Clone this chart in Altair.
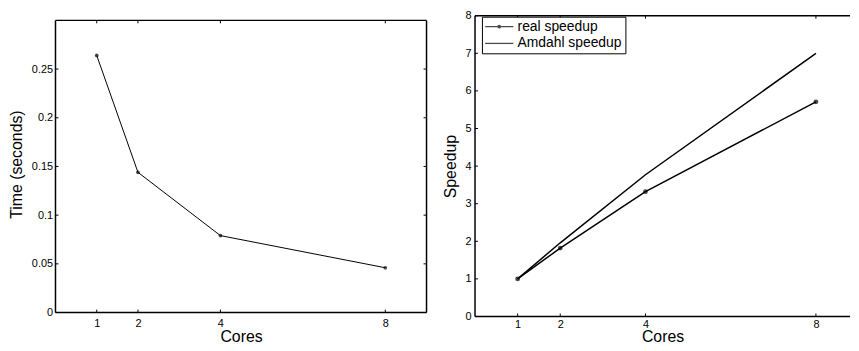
import altair as alt
import pandas as pd

# ---------------- data ----------------
cores = [1, 2, 4, 8]
time_s = [0.264, 0.144, 0.079, 0.046]
real_speedup = [1.0, 1.82, 3.32, 5.71]
amdahl_speedup = [1.0, 1.96, 3.77, 7.0]
series_names = ["real speedup", "Amdahl speedup"]
x_ticks = [1, 2, 4, 8]
time_ticks = [0, 0.05, 0.1, 0.15, 0.2, 0.25]
speed_ticks = [0, 1, 2, 3, 4, 5, 6, 7, 8]
time_limits = [0, 0.3]
core_limits = [0, 9]

FONT = "Liberation Sans"
LW, LH = 375, 300
RW, RH = 379, 304
FRAME_W = 1.5

df_time = pd.DataFrame({"cores": cores, "time": time_s})
df_speed = pd.DataFrame({
    "cores": cores * 2,
    "speedup": real_speedup + amdahl_speedup,
    "series": [series_names[0]] * len(cores) + [series_names[1]] * len(cores),
})
df_xt = pd.DataFrame({"cores": x_ticks})
df_tt = pd.DataFrame({"time": time_ticks})
df_st = pd.DataFrame({"speedup": speed_ticks})
df_one = pd.DataFrame({"k": [0]})

# ---------------- left panel ----------------
# plot area slightly taller than the axes box (box drawn at the data limits 0..0.3)
xL = alt.Scale(domain=[0, 9], nice=False, zero=False)
yL = alt.Scale(domain=[0, 0.3048], nice=False, zero=False)
axL_x = alt.Axis(values=x_ticks, title="Cores", labelPadding=4.8, titlePadding=0.2)
axL_y = alt.Axis(values=time_ticks, title="Time (seconds)", format="~g",
                 labelPadding=3, titlePadding=7)
XL = alt.X("cores:Q", scale=xL, axis=axL_x)
YL = alt.Y("time:Q", scale=yL, axis=axL_y)
tx = 0.072   # inward tick length (x units)
ty = 0.003   # inward tick length (y units)

left_line = alt.Chart(df_time).mark_line(color="black", strokeWidth=1).encode(x=XL, y=YL)
left_pts = alt.Chart(df_time).mark_point(color="black", filled=True, size=14, shape="circle").encode(x=XL, y=YL)
lt_bot = alt.Chart(df_xt).mark_rule(color="black", strokeWidth=1).encode(
    x=XL, y=alt.datum(time_limits[0], scale=yL), y2=alt.datum(time_limits[0] + ty))
lt_top = alt.Chart(df_xt).mark_rule(color="black", strokeWidth=1).encode(
    x=XL, y=alt.datum(time_limits[1], scale=yL), y2=alt.datum(time_limits[1] - ty))
lt_left = alt.Chart(df_tt).mark_rule(color="black", strokeWidth=1).encode(
    y=YL, x=alt.datum(core_limits[0], scale=xL), x2=alt.datum(core_limits[0] + tx))
lt_right = alt.Chart(df_tt).mark_rule(color="black", strokeWidth=1).encode(
    y=YL, x=alt.datum(core_limits[1], scale=xL), x2=alt.datum(core_limits[1] - tx))
lf_top = alt.Chart(df_one).mark_rule(color="black", strokeWidth=FRAME_W).encode(
    x=alt.datum(core_limits[0], scale=xL), x2=alt.datum(core_limits[1]),
    y=alt.datum(time_limits[1], scale=yL))
lf_bot = alt.Chart(df_one).mark_rule(color="black", strokeWidth=FRAME_W).encode(
    x=alt.datum(core_limits[0], scale=xL), x2=alt.datum(core_limits[1]),
    y=alt.datum(time_limits[0], scale=yL))
lf_left = alt.Chart(df_one).mark_rule(color="black", strokeWidth=FRAME_W).encode(
    x=alt.datum(core_limits[0], scale=xL),
    y=alt.datum(time_limits[0], scale=yL), y2=alt.datum(time_limits[1]))
lf_right = alt.Chart(df_one).mark_rule(color="black", strokeWidth=FRAME_W).encode(
    x=alt.datum(core_limits[1], scale=xL),
    y=alt.datum(time_limits[0], scale=yL), y2=alt.datum(time_limits[1]))

left = alt.layer(left_line, left_pts, lt_bot, lt_top, lt_left, lt_right,
                 lf_top, lf_bot, lf_left, lf_right).properties(
    width=LW, height=LH,
    view=alt.ViewBackground(stroke="transparent", strokeWidth=0),
)

# ---------------- right panel ----------------
xR = alt.Scale(domain=[0, 8.8], nice=False, zero=False)
yR = alt.Scale(domain=[0, 8], nice=False, zero=False)
axR_x = alt.Axis(values=x_ticks, title="Cores", labelPadding=2, titlePadding=-0.5)
axR_y = alt.Axis(values=speed_ticks, title="Speedup", labelPadding=4, titlePadding=7)
XR = alt.X("cores:Q", scale=xR, axis=axR_x)
YR = alt.Y("speedup:Q", scale=yR, axis=axR_y)
TICK = 3

legend_paths = [
    "M-1.35,0H4.35M1.25,0A0.25,0.25,0,1,1,1.75,0A0.25,0.25,0,1,1,1.25,0Z",
    "M-1.35,0H4.35",
]

right_lines = alt.Chart(df_speed).mark_line(color="black", strokeWidth=1.5).encode(
    x=XR, y=YR, detail="series:N")
right_pts = alt.Chart(df_speed).transform_filter(
    alt.datum.series == series_names[0]
).mark_point(color="black", filled=True, size=24, shape="circle").encode(x=XR, y=YR)
legend_carrier = alt.Chart(df_speed).transform_filter(
    "datum.speedup < -100"
).mark_point(color="black", filled=False, size=100, strokeWidth=1.3).encode(
    x=XR, y=YR,
    shape=alt.Shape("series:N",
                    scale=alt.Scale(domain=series_names, range=legend_paths),
                    legend=alt.Legend(title=None, orient="none", legendX=7, legendY=1,
                                      direction="vertical",
                                      strokeColor="black", fillColor="white", padding=3,
                                      rowPadding=3, labelFont=FONT, labelFontSize=14,
                                      labelColor="black", labelOffset=19,
                                      symbolSize=100, symbolStrokeWidth=1.3,
                                      symbolStrokeColor="black", symbolFillColor="black")),
)
rt_bot = alt.Chart(df_xt).mark_rule(color="black", strokeWidth=1).encode(
    x=XR, y=alt.value(RH), y2=alt.value(RH - TICK))
rt_top = alt.Chart(df_xt).mark_rule(color="black", strokeWidth=1).encode(
    x=XR, y=alt.value(0), y2=alt.value(TICK))
rt_left = alt.Chart(df_st).mark_rule(color="black", strokeWidth=1).encode(
    y=YR, x=alt.value(0), x2=alt.value(TICK))
# frame of the right panel (its right side lies outside the picture)
fr_top = alt.Chart(df_one).mark_rule(color="black", strokeWidth=FRAME_W).encode(
    x=alt.value(0), x2=alt.value(RW), y=alt.value(0))
fr_bot = alt.Chart(df_one).mark_rule(color="black", strokeWidth=FRAME_W).encode(
    x=alt.value(0), x2=alt.value(RW), y=alt.value(RH))
fr_left = alt.Chart(df_one).mark_rule(color="black", strokeWidth=FRAME_W).encode(
    x=alt.value(0), y=alt.value(0), y2=alt.value(RH))

right = alt.layer(right_lines, right_pts, legend_carrier, rt_bot, rt_top, rt_left,
                  fr_top, fr_bot, fr_left).properties(
    width=RW, height=RH,
    view=alt.ViewBackground(stroke="transparent", strokeWidth=0),
)

chart = alt.hconcat(left, right, spacing=14).resolve_legend(shape="independent").properties(
    padding={"left": 0, "top": 0, "right": 0, "bottom": -4}
).configure_axis(
    grid=False, ticks=False, domain=False,
    labelFont=FONT, labelFontSize=11, labelColor="black",
    titleFont=FONT, titleFontSize=16, titleFontWeight="normal", titleColor="black",
)

chart.save("out.html", embed_options={"renderer": "svg", "actions": False})
